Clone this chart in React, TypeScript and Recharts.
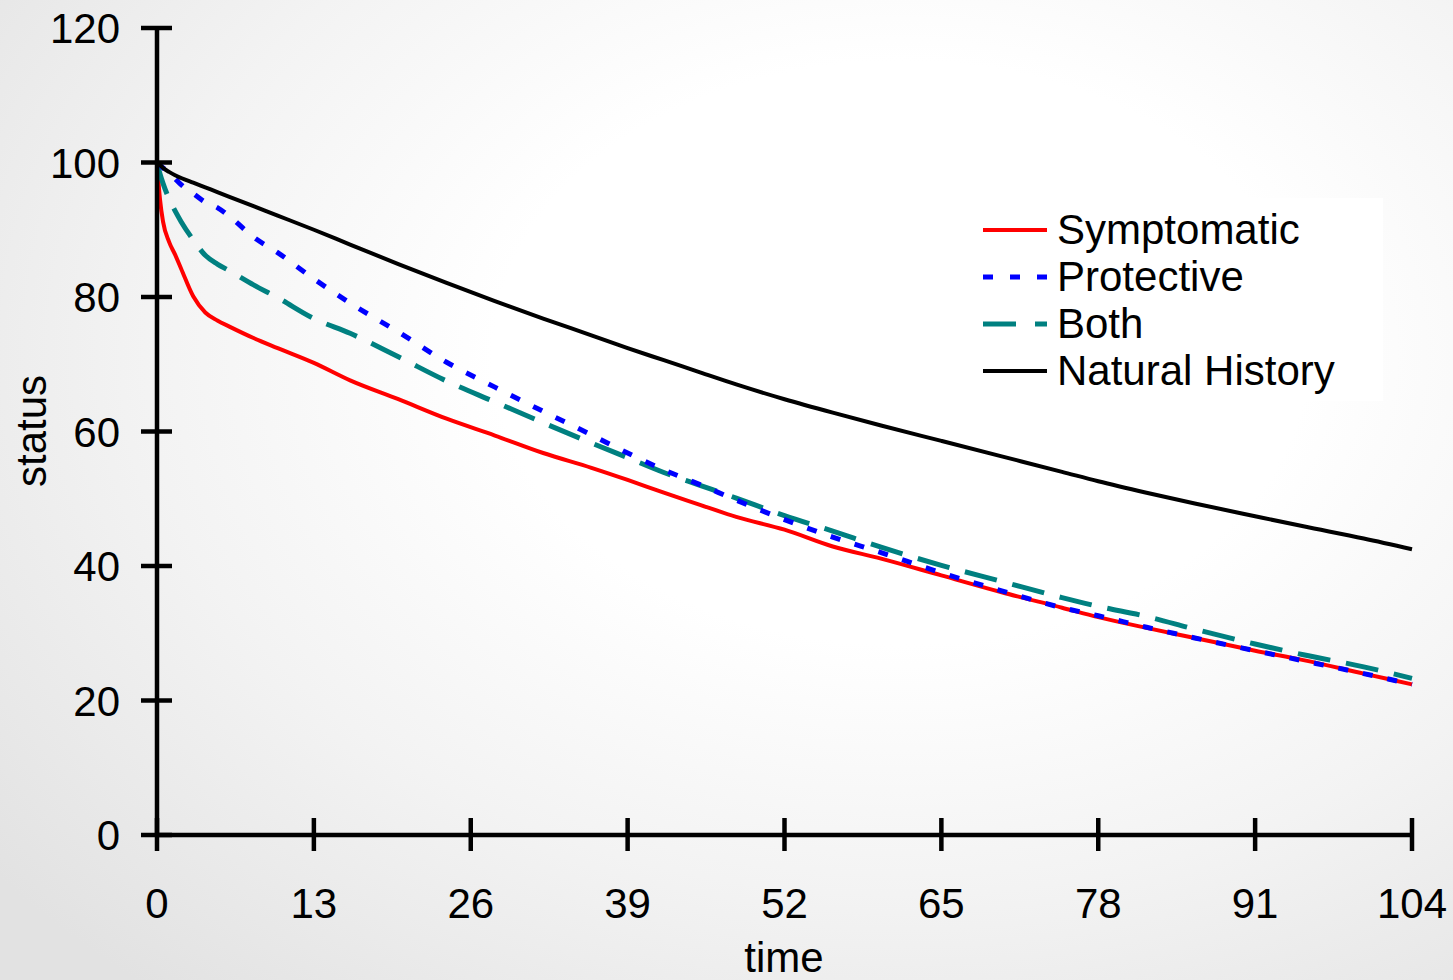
import React from "react";
import { LineChart, Line, XAxis, YAxis, Legend } from "recharts";

// weeks
const time = [
  0, 0.25, 0.5, 1, 1.5, 2, 3, 4, 5, 6, 8, 10, 13, 16, 20, 24, 28, 32, 36, 39, 42, 45, 48, 52,
  56, 60, 65, 70, 75, 78, 82, 86, 91, 95, 100, 104,
];

const symptomatic = [
  100, 94.5, 91.2, 88.2, 86.3, 84.2, 80.1, 77.7, 76.5, 75.6, 73.9, 72.4, 70.2, 67.6, 64.8, 61.9,
  59.4, 56.8, 54.6, 52.8, 50.9, 49.1, 47.3, 45.4, 42.9, 41.1, 38.6, 36.1, 33.8, 32.4, 30.8, 29.3,
  27.4, 26.0, 24.0, 22.4,
];

const protective = [
  100, 99.6, 99.2, 98.5, 97.6, 96.7, 95.4, 94.1, 93.3, 92.0, 88.9, 86.6, 82.7, 79.1, 74.8, 70.3,
  66.6, 63.0, 59.5, 56.8, 54.3, 52.1, 49.8, 46.9, 44.3, 42.0, 39.0, 36.3, 33.8, 32.6, 30.9, 29.3,
  27.4, 25.9, 24.0, 22.4,
];

const both = [
  100, 98.3, 96.9, 94.6, 92.8, 91.2, 88.5, 86.2, 84.9, 83.9, 81.8, 79.9, 76.8, 74.6, 71.1, 67.5,
  64.4, 61.3, 58.3, 56.1, 53.9, 52.0, 50.1, 47.5, 45.2, 42.8, 40.1, 37.7, 35.3, 34.0, 32.5, 30.6,
  28.4, 26.8, 25.0, 23.3,
];

const naturalHistory = [
  100, 99.6, 99.2, 98.6, 98.1, 97.7, 97.0, 96.3, 95.6, 94.9, 93.5, 92.1, 90.0, 87.8, 84.9, 82.1,
  79.4, 76.8, 74.3, 72.4, 70.6, 68.8, 67.0, 64.8, 62.8, 60.9, 58.6, 56.3, 54.0, 52.6, 50.9, 49.3,
  47.4, 45.9, 44.1, 42.5,
];

const xTicks = [0, 13, 26, 39, 52, 65, 78, 91, 104];
const yTicks = [0, 20, 40, 60, 80, 100, 120];

const FONT = "'Liberation Sans', Arial, sans-serif";

const data = time.map((t, i) => ({
  t,
  symptomatic: symptomatic[i],
  protective: protective[i],
  both: both[i],
  natural: naturalHistory[i],
}));

// legend order differs from draw order (blue sits over teal)
const legendItems = [
  { key: "symptomatic", name: "Symptomatic", color: "#ff0000", dash: undefined as string | undefined, width: 4 },
  { key: "protective", name: "Protective", color: "#0000ff", dash: "10 17", width: 5 },
  { key: "both", name: "Both", color: "#008080", dash: "33 19", width: 5 },
  { key: "natural", name: "Natural History", color: "#000000", dash: undefined, width: 4 },
];

function YTick(props: any) {
  const { x, y, payload } = props;
  return (
    <g>
      <line x1={x - 16} x2={x + 15} y1={y} y2={y} stroke="#000" strokeWidth={4.5} />
      <text x={x - 37} y={y} dy={15} textAnchor="end" fontSize={42} fontFamily={FONT} fill="#000">
        {payload.value}
      </text>
    </g>
  );
}

function XTick(props: any) {
  const { x, y, payload } = props;
  return (
    <g>
      <line x1={x} x2={x} y1={y - 17} y2={y + 16} stroke="#000" strokeWidth={4.5} />
      <text x={x} y={y} dy={83} textAnchor="middle" fontSize={42} fontFamily={FONT} fill="#000">
        {payload.value}
      </text>
    </g>
  );
}

function LegendBox() {
  return (
    <div style={{ background: "#fff", padding: "8px 0 0 8px", boxSizing: "border-box", width: 408, height: 203 }}>
      {legendItems.map((it) => (
        <div key={it.key} style={{ display: "flex", alignItems: "center", height: 47 }}>
          <svg width={64} height={10} style={{ display: "block" }}>
            <line
              x1={0}
              x2={64}
              y1={5}
              y2={5}
              stroke={it.color}
              strokeWidth={it.width}
              strokeDasharray={it.dash}
              strokeLinecap={it.dash ? "butt" : "round"}
            />
          </svg>
          <span style={{ marginLeft: 10, fontSize: 42, lineHeight: "47px", fontFamily: FONT, color: "#000" }}>
            {it.name}
          </span>
        </div>
      ))}
    </div>
  );
}

export default function App() {
  return (
    <div
      style={{
        position: "absolute",
        left: 0,
        top: 0,
        width: 1453,
        height: 980,
        background:
          "radial-gradient(ellipse 80% 85% at 62% 36%, #ffffff 35%, #f3f3f3 65%, #e2e2e2 100%)",
        fontFamily: FONT,
      }}
    >
      <LineChart width={1453} height={980} data={data} margin={{ top: 28, right: 41, bottom: 0, left: 0 }}>
        <XAxis
          dataKey="t"
          type="number"
          domain={[0, 104]}
          ticks={xTicks}
          interval={0}
          height={145}
          tickSize={0}
          tickMargin={0}
          tick={<XTick />}
          axisLine={{ stroke: "#000", strokeWidth: 4.5 }}
          label={() => (
            <text x={784} y={972} textAnchor="middle" fontSize={42} fontFamily={FONT} fill="#000">
              time
            </text>
          )}
        />
        <YAxis
          type="number"
          domain={[0, 120]}
          ticks={yTicks}
          interval={0}
          width={157}
          tickSize={0}
          tickMargin={0}
          tick={<YTick />}
          axisLine={{ stroke: "#000", strokeWidth: 4.5 }}
          label={() => (
            <text
              x={46}
              y={431}
              transform="rotate(-90 46 431)"
              textAnchor="middle"
              fontSize={42}
              fontFamily={FONT}
              fill="#000"
            >
              status
            </text>
          )}
        />
        <Legend
          layout="vertical"
          align="center"
          verticalAlign="middle"
          content={() => <LegendBox />}
          wrapperStyle={{ left: 975, top: 198, width: 408, height: 203 }}
        />
        <Line
          type="monotone"
          dataKey="symptomatic"
          name="Symptomatic"
          stroke="#ff0000"
          strokeWidth={4}
          dot={false}
          isAnimationActive={false}
        />
        <Line
          type="monotone"
          dataKey="both"
          name="Both"
          stroke="#008080"
          strokeWidth={5}
          strokeDasharray="33 16"
          dot={false}
          isAnimationActive={false}
        />
        <Line
          type="monotone"
          dataKey="protective"
          name="Protective"
          stroke="#0000ff"
          strokeWidth={5}
          strokeDasharray="10 15"
          dot={false}
          isAnimationActive={false}
        />
        <Line
          type="monotone"
          dataKey="natural"
          name="Natural History"
          stroke="#000000"
          strokeWidth={4}
          dot={false}
          isAnimationActive={false}
        />
      </LineChart>
    </div>
  );
}
